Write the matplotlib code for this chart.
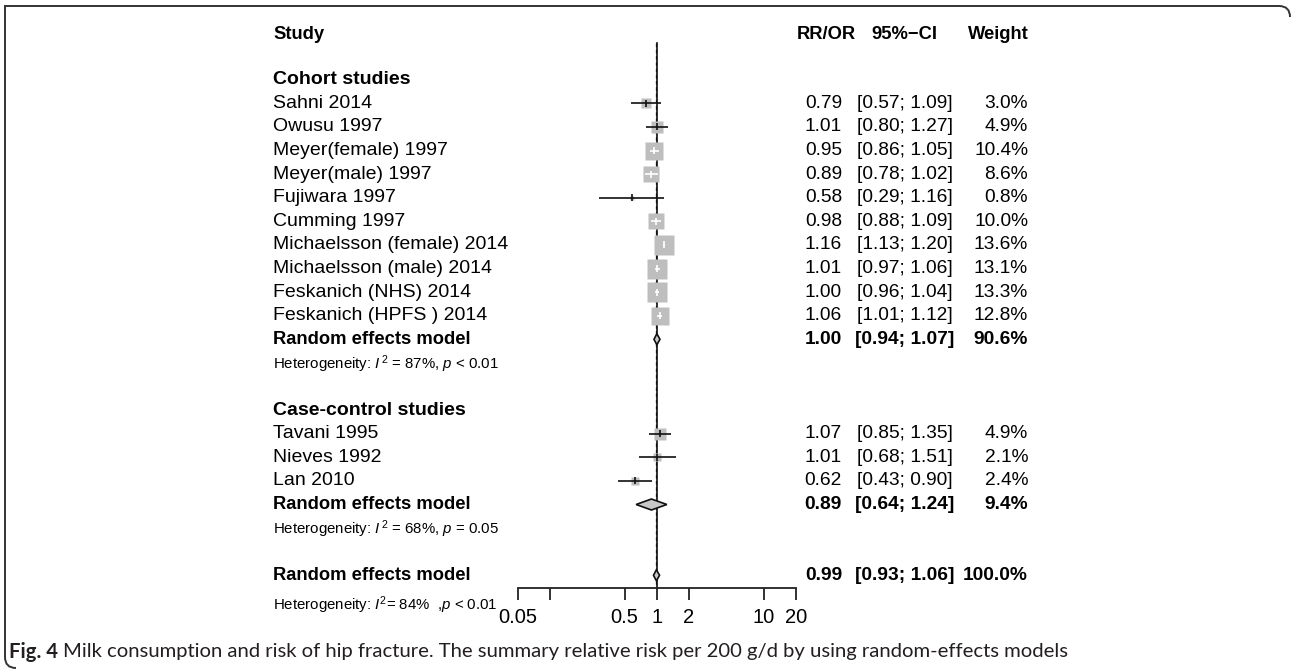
import matplotlib
matplotlib.use('Agg')
import matplotlib.pyplot as plt
import numpy as np
from matplotlib.patches import Polygon, PathPatch
from matplotlib.path import Path

plt.rcParams['font.family'] = ['Liberation Sans', 'DejaVu Sans']
plt.rcParams['mathtext.fontset'] = 'custom'
plt.rcParams['mathtext.rm'] = 'Liberation Sans'
plt.rcParams['mathtext.it'] = 'Liberation Sans:italic'

# ---------------- data ----------------
cohort_names = ['Sahni 2014', 'Owusu 1997', 'Meyer(female) 1997', 'Meyer(male) 1997',
                'Fujiwara 1997', 'Cumming 1997', 'Michaelsson (female) 2014',
                'Michaelsson (male) 2014', 'Feskanich (NHS) 2014', 'Feskanich (HPFS ) 2014']
cohort_est = [0.79, 1.01, 0.95, 0.89, 0.58, 0.98, 1.16, 1.01, 1.00, 1.06]
cohort_lo = [0.57, 0.80, 0.86, 0.78, 0.29, 0.88, 1.13, 0.97, 0.96, 1.01]
cohort_hi = [1.09, 1.27, 1.05, 1.02, 1.16, 1.09, 1.20, 1.06, 1.04, 1.12]
cohort_w = [3.0, 4.9, 10.4, 8.6, 0.8, 10.0, 13.6, 13.1, 13.3, 12.8]

cc_names = ['Tavani 1995', 'Nieves 1992', 'Lan 2010']
cc_est = [1.07, 1.01, 0.62]
cc_lo = [0.85, 0.68, 0.43]
cc_hi = [1.35, 1.51, 0.90]
cc_w = [4.9, 2.1, 2.4]

summary_labels = ['Random effects model', 'Random effects model', 'Random effects model']
summary_est = [1.00, 0.89, 0.99]
summary_lo = [0.94, 0.64, 0.93]
summary_hi = [1.07, 1.24, 1.06]
summary_w = ['90.6%', '9.4%', '100.0%']
het_texts = [r'Heterogeneity: $\mathit{I}^{\,2}$ = 87%, $\mathit{p}$ < 0.01',
             r'Heterogeneity: $\mathit{I}^{\,2}$ = 68%, $\mathit{p}$ = 0.05',
             r'Heterogeneity: $\mathit{I}^{2}$= 84%  ,$\mathit{p}$ < 0.01']
group_labels = ['Cohort studies', 'Case-control studies']

xticks = [0.05, 0.1, 0.5, 1, 2, 10, 20]
xtick_labels = ['0.05', '', '0.5', '1', '2', '10', '20']

caption_bold = 'Fig. 4'
caption_text = ('Milk consumption and risk of hip fracture. The summary relative risk '
                'per 200 g/d by using random-effects models')

# ---------------- layout ----------------
W, H = 1292, 670
fig = plt.figure(figsize=(W / 100, H / 100), dpi=100)
fig.patch.set_facecolor('white')

bg = fig.add_axes([0, 0, 1, 1])
bg.set_xlim(0, W)
bg.set_ylim(H, 0)
bg.axis('off')

X_LEFT, X_RIGHT = 517.7, 796.0
Y_TOP, Y_AXIS = 20.0, 588.0
ax = fig.add_axes([X_LEFT / W, 1 - Y_AXIS / H, (X_RIGHT - X_LEFT) / W, (Y_AXIS - Y_TOP) / H])
ax.set_xscale('log')
ax.set_xlim(xticks[0], xticks[-1])
ax.set_ylim(Y_AXIS, Y_TOP)
ax.patch.set_alpha(0)
for s in ['top', 'right', 'left']:
    ax.spines[s].set_visible(False)
ax.spines['bottom'].set_linewidth(1.3)
ax.spines['bottom'].set_color('#222222')
ax.set_yticks([])
ax.set_xticks(xticks)
ax.set_xticklabels(xtick_labels)
ax.xaxis.set_minor_locator(matplotlib.ticker.NullLocator())
ax.tick_params(axis='x', direction='out', length=8.5, width=1.3, color='#222222',
               labelsize=14.5, pad=6)

ROW0, ROW_H = 103.3, 23.6
def ypix(r):
    return ROW0 + ROW_H * r

FS = 14
FS_NUM = 13.8
FS_GROUP = 14
FS_SUM = 13.2
FS_SMALL = 10.8
X_TEXT = 273
X_EST, X_CI, X_W = 842, 905, 1028
SQ_COL = '#BEBEBE'

# vertical reference lines
ax.plot([1, 1], [43, Y_AXIS], color='#111111', lw=1.2, zorder=1)
ax.plot([summary_est[2]] * 2, [43, Y_AXIS], color='#111111', lw=0.9, ls=(0, (3, 2)), zorder=1)

# headers
bg.text(X_TEXT, ypix(-2.9), 'Study', fontsize=FS_SUM, fontweight='bold', va='center', ha='left')
bg.text(826, ypix(-2.9), 'RR/OR', fontsize=FS_SUM, fontweight='bold', va='center', ha='center')
bg.text(904, ypix(-2.9), '95%\u2212CI', fontsize=FS_SUM, fontweight='bold', va='center', ha='center')
bg.text(1029, ypix(-2.9), 'Weight', fontsize=FS_SUM, fontweight='bold', va='center', ha='right')

to_disp = ax.transData


def draw_study(row, name, est, lo, hi, w):
    y = ypix(row)
    side = 5.3 * np.sqrt(w)
    bg.text(X_TEXT, y, name, fontsize=FS, va='center', ha='left')
    bg.text(X_EST, y, f'{est:.2f}', fontsize=FS_NUM, va='center', ha='right')
    bg.text(X_CI, y, f'[{lo:.2f}; {hi:.2f}]', fontsize=FS_NUM, va='center', ha='center')
    bg.text(X_W, y, f'{w:.1f}%', fontsize=FS_NUM, va='center', ha='right')
    ax.plot([est], [y], marker='s', ms=side * 0.72, mfc=SQ_COL, mec='none', zorder=2)
    xe = to_disp.transform((est, 0))[0]
    xl = to_disp.transform((lo, 0))[0]
    xh = to_disp.transform((hi, 0))[0]
    inside = (xl >= xe - side / 2) and (xh <= xe + side / 2)
    col = 'white' if inside else '#111111'
    ax.plot([lo, hi], [y, y], color=col, lw=1.2, zorder=3, solid_capstyle='butt')
    ax.plot([est, est], [y - 3.5, y + 3.5], color=col, lw=1.2, zorder=3, solid_capstyle='butt')


def draw_summary(row, idx):
    y = ypix(row)
    bg.text(X_TEXT, y, summary_labels[idx], fontsize=FS_SUM, fontweight='bold', va='center', ha='left')
    bg.text(X_EST, y, f'{summary_est[idx]:.2f}', fontsize=FS_NUM, fontweight='bold', va='center', ha='right')
    bg.text(X_CI, y, f'[{summary_lo[idx]:.2f}; {summary_hi[idx]:.2f}]', fontsize=FS_NUM,
            fontweight='bold', va='center', ha='center')
    bg.text(X_W, y, summary_w[idx], fontsize=FS_NUM, fontweight='bold', va='center', ha='right')
    h = 5.5
    poly = Polygon([(summary_lo[idx], y), (summary_est[idx], y - h), (summary_hi[idx], y),
                    (summary_est[idx], y + h)], closed=True, facecolor='#C8C8C8',
                   edgecolor='#111111', lw=1.2, zorder=4)
    ax.add_patch(poly)


def draw_het(row, idx):
    bg.text(X_TEXT, ypix(row), het_texts[idx], fontsize=FS_SMALL, va='center', ha='left')


# cohort group
bg.text(X_TEXT, ypix(-1), group_labels[0], fontsize=FS_GROUP, fontweight='bold', va='center', ha='left')
for i in range(len(cohort_names)):
    draw_study(i, cohort_names[i], cohort_est[i], cohort_lo[i], cohort_hi[i], cohort_w[i])
draw_summary(10, 0)
draw_het(11.05, 0)

# case-control group
bg.text(X_TEXT, ypix(13), group_labels[1], fontsize=FS_GROUP, fontweight='bold', va='center', ha='left')
for i in range(len(cc_names)):
    draw_study(14 + i, cc_names[i], cc_est[i], cc_lo[i], cc_hi[i], cc_w[i])
draw_summary(17, 1)
draw_het(18.05, 1)

# overall
draw_summary(20, 2)
draw_het(21.25, 2)

# border
verts = [(1290, 17), (1290, 6), (1279, 6), (5, 6), (5, 657), (5, 668), (16, 668)]
codes = [Path.MOVETO, Path.CURVE3, Path.CURVE3, Path.LINETO, Path.LINETO, Path.CURVE3, Path.CURVE3]
bg.add_patch(PathPatch(Path(verts, codes), facecolor='none', edgecolor='#333333', lw=1.4))

# caption
CAP_FONT = ['Lato', 'DejaVu Sans']
CAP_FS = 14.6
t1 = bg.text(9, 652, caption_bold, fontsize=CAP_FS, fontweight='bold', family=CAP_FONT,
             va='center', ha='left', color='#231F20')
fig.canvas.draw()
bb = t1.get_window_extent()
bg.text(bb.x1 + 5, 652, caption_text, fontsize=CAP_FS, family=CAP_FONT,
        va='center', ha='left', color='#231F20')

fig.savefig('out.png', dpi=100, facecolor='white')
